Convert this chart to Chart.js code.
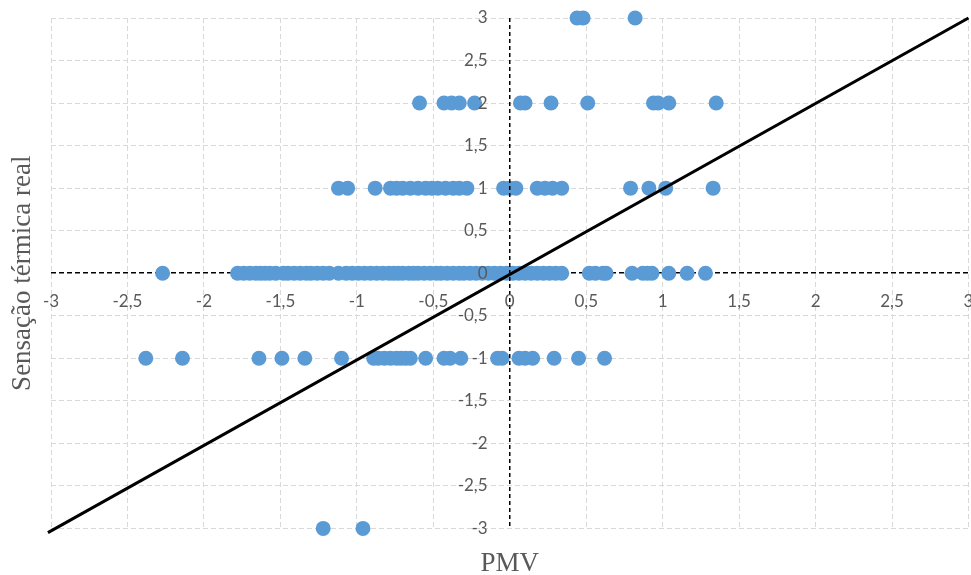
<!DOCTYPE html>
<html>
<head>
<meta charset="utf-8">
<script src="https://cdn.jsdelivr.net/npm/chart.js@4/dist/chart.umd.min.js"></script>
<style>
  body { margin: 0; background: #fff; overflow: hidden; }
</style>
</head>
<body>
<canvas id="pmv" width="976" height="575"></canvas>
<script>
// PMV values grouped by the reported thermal sensation
const sensacao = [3, 2, 1, 0, -1, -3];
const pmv3 = [0.44, 0.48, 0.82];
const pmv2 = [-0.59, -0.43, -0.38, -0.33, -0.23, 0.07, 0.10, 0.27, 0.51, 0.94, 0.97, 1.04, 1.35];
const pmv1 = [-1.12, -1.06, -0.88, -0.78, -0.74, -0.70, -0.65, -0.60, -0.55, -0.51, -0.47, -0.42,
  -0.37, -0.33, -0.28, -0.04, 0.00, 0.04, 0.18, 0.23, 0.28, 0.34, 0.79, 0.91, 1.02, 1.33];
const pmv0 = [-2.27, -1.78, -1.74, -1.70, -1.66, -1.63, -1.60, -1.57, -1.53, -1.48, -1.45, -1.41,
  -1.37, -1.33, -1.30, -1.26, -1.22, -1.18, -1.12, -1.07, -1.03, -0.99, -0.95, -0.91, -0.87,
  -0.83, -0.79, -0.76, -0.73, -0.70, -0.66, -0.63, -0.60, -0.56, -0.52, -0.48, -0.45, -0.41,
  -0.37, -0.33, -0.30, -0.26, -0.22, -0.18, -0.14, -0.10, -0.06, -0.02, 0.02, 0.06, 0.10,
  0.14, 0.18, 0.22, 0.26, 0.30, 0.34, 0.52, 0.56, 0.61, 0.63, 0.80, 0.87, 0.90, 0.93, 1.04,
  1.16, 1.28];
const pmvM1 = [-2.38, -2.14, -1.64, -1.49, -1.34, -1.10, -0.89, -0.86, -0.82, -0.78, -0.74, -0.71,
  -0.68, -0.65, -0.55, -0.43, -0.39, -0.32, -0.08, -0.05, 0.06, 0.10, 0.15, 0.29, 0.45, 0.62];
const pmvM3 = [-1.22, -0.96];
const grupos = [pmv3, pmv2, pmv1, pmv0, pmvM1, pmvM3];

// reference line PMV = sensation
const linhaX = [-3.02, 3];
const linhaY = [-3.05, 3];

const pontos = [];
grupos.forEach((g, i) => {
    g.forEach(x => pontos.push({ x: x, y: sensacao[i] }));
});
const linha = linhaX.map((x, i) => ({ x: x, y: linhaY[i] }));

const fmt = v => String(v).replace('.', ',');
const isZero = c => c.tick && Math.abs(c.tick.value) < 1e-9;
const tickFont = { family: 'Lato', size: 17 };
const noPad = s => { s.paddingLeft = 0; s.paddingRight = 0; s.paddingTop = 0; s.paddingBottom = 0; };

const ctx = document.getElementById('pmv').getContext('2d');
new Chart(ctx, {
    type: 'scatter',
    data: {
        datasets: [{
            data: linha,
            showLine: true,
            borderColor: '#000',
            borderWidth: 3,
            pointRadius: 0,
            clip: false
        }, {
            data: pontos,
            backgroundColor: '#5b9bd5',
            borderWidth: 0,
            pointRadius: 7.5,
            pointHoverRadius: 7.5,
            clip: false
        }]
    },
    options: {
        responsive: false,
        animation: false,
        layout: { padding: { top: 18, right: 3, left: 1, bottom: 0 } },
        plugins: { legend: { display: false }, tooltip: { enabled: false } },
        scales: {
            // vertical grid lines + PMV title
            x: {
                type: 'linear', position: 'bottom', min: -3, max: 3,
                ticks: { display: false, stepSize: 0.5 },
                grid: {
                    drawTicks: false,
                    color: c => isZero(c) ? 'rgba(0,0,0,0)' : '#d9d9d9'
                },
                border: { display: false, dash: [5, 3] },
                title: {
                    display: true, text: 'PMV', color: '#595959',
                    font: { family: 'Liberation Serif', size: 27, lineHeight: 0.8 },
                    padding: { top: 25, bottom: 0 }
                },
                afterFit: noPad
            },
            // horizontal grid lines, dashed zero line, sensation title
            y: {
                type: 'linear', position: 'left', min: -3, max: 3,
                ticks: { display: false, stepSize: 0.5 },
                grid: {
                    drawTicks: false,
                    color: c => isZero(c) ? '#000' : '#d9d9d9',
                    lineWidth: c => isZero(c) ? 1.5 : 1
                },
                border: { display: false, dash: [5, 3] },
                title: {
                    display: true, text: 'Sensação térmica real', color: '#595959',
                    font: { family: 'Liberation Serif', size: 27, lineHeight: 1 },
                    padding: { top: 8, bottom: 15 }
                },
                afterFit: noPad
            },
            // x tick labels along y = 0, dashed x = 0 line above the points
            xl: {
                type: 'linear', axis: 'x', position: { y: 0 }, min: -3, max: 3,
                grid: {
                    display: true, drawTicks: false, z: 1,
                    color: c => isZero(c) ? '#000' : 'rgba(0,0,0,0)',
                    lineWidth: 1.5
                },
                border: { display: false, dash: [4, 3] },
                ticks: {
                    stepSize: 0.5, padding: 18, z: 1, color: '#595959', font: tickFont,
                    maxRotation: 0, autoSkip: false, callback: fmt
                },
                afterFit: noPad
            },
            // y tick labels just left of x = 0
            yl: {
                type: 'linear', axis: 'y', position: { x: -0.145 }, min: -3, max: 3,
                grid: { display: false, drawTicks: false },
                border: { display: false },
                ticks: {
                    stepSize: 0.5, z: 1, color: '#595959', font: tickFont,
                    autoSkip: false, callback: fmt
                },
                afterFit: noPad
            }
        }
    }
});
</script>
</body>
</html>
